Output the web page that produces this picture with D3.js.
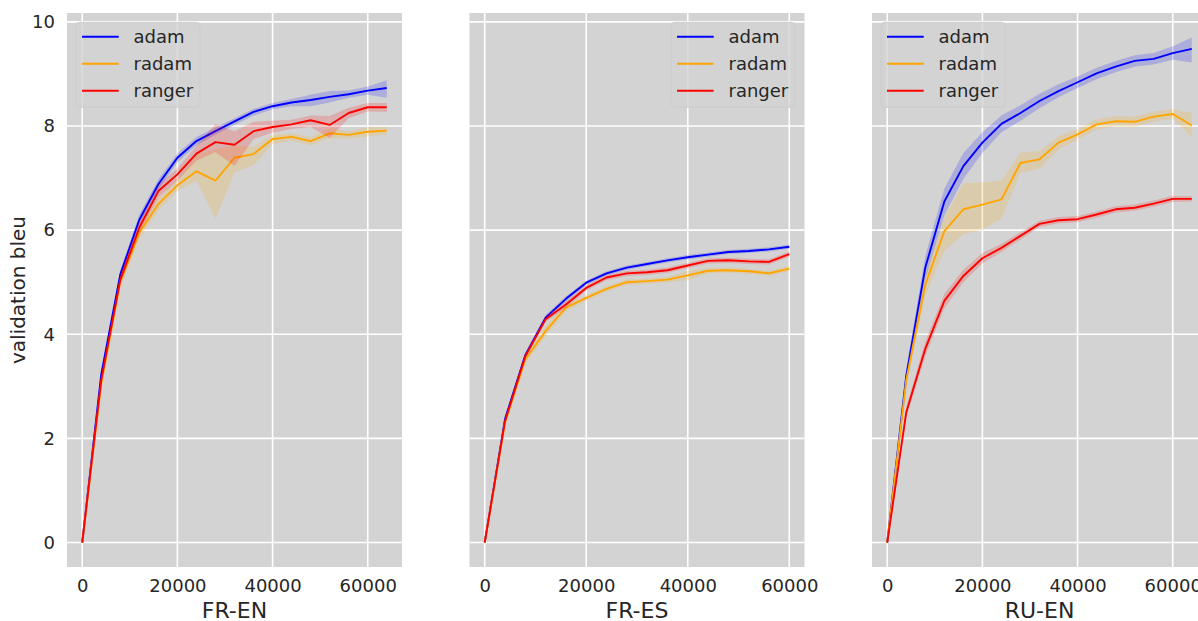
<!DOCTYPE html>
<html>
<head>
<meta charset="utf-8">
<script src="https://cdn.jsdelivr.net/npm/d3@7"></script>
<style>
  body { margin: 0; background: #fff; }
  svg text { font-family: "DejaVu Sans", sans-serif; fill: #262626; }
</style>
</head>
<body>
<div id="chart"></div>
<script>
// training steps (x values)
var steps64 = [0, 4000, 8000, 12000, 16000, 20000, 24000, 28000, 32000, 36000, 40000, 44000, 48000, 52000, 56000, 60000, 64000];
var steps60 = [0, 4000, 8000, 12000, 16000, 20000, 24000, 28000, 32000, 36000, 40000, 44000, 48000, 52000, 56000, 60000];

var languages = ["FR-EN", "FR-ES", "RU-EN"];
var optimizers = ["adam", "radam", "ranger"];
var xTicks = [0, 20000, 40000, 60000];
var yTicks = [0, 2, 4, 6, 8, 10];

// FR-EN
var frEnAdam    = [0, 3.23, 5.15, 6.20, 6.88, 7.39, 7.71, 7.90, 8.09, 8.27, 8.38, 8.45, 8.50, 8.56, 8.61, 8.68, 8.73];
var frEnAdamLo  = [0, 3.15, 5.07, 6.10, 6.78, 7.30, 7.63, 7.83, 8.02, 8.20, 8.32, 8.38, 8.38, 8.45, 8.54, 8.60, 8.54];
var frEnAdamHi  = [0, 3.30, 5.22, 6.30, 6.97, 7.47, 7.79, 7.97, 8.15, 8.33, 8.44, 8.52, 8.60, 8.67, 8.68, 8.76, 8.88];
var frEnRadam   = [0, 3.05, 5.00, 5.95, 6.50, 6.86, 7.13, 6.95, 7.39, 7.46, 7.75, 7.79, 7.71, 7.86, 7.83, 7.89, 7.91];
var frEnRadamLo = [0, 2.97, 4.90, 5.83, 6.38, 6.75, 6.95, 6.22, 7.10, 7.25, 7.65, 7.72, 7.63, 7.76, 7.76, 7.80, 7.84];
var frEnRadamHi = [0, 3.12, 5.10, 6.07, 6.62, 6.97, 7.45, 7.55, 7.62, 7.60, 7.83, 7.86, 7.79, 7.96, 7.90, 7.98, 7.98];
var frEnRanger   = [0, 3.12, 5.05, 6.05, 6.75, 7.07, 7.47, 7.69, 7.64, 7.90, 7.98, 8.03, 8.11, 8.02, 8.25, 8.36, 8.36];
var frEnRangerLo = [0, 3.04, 4.96, 5.94, 6.63, 6.95, 7.33, 7.50, 7.23, 7.75, 7.87, 7.94, 7.98, 7.77, 8.15, 8.28, 8.27];
var frEnRangerHi = [0, 3.20, 5.14, 6.16, 6.87, 7.19, 7.62, 8.04, 7.90, 8.08, 8.10, 8.12, 8.20, 8.19, 8.35, 8.44, 8.44];

// FR-ES
var frEsAdam    = [0, 2.37, 3.60, 4.32, 4.68, 4.99, 5.17, 5.28, 5.35, 5.42, 5.48, 5.53, 5.58, 5.60, 5.63, 5.68];
var frEsAdamLo  = [0, 2.32, 3.55, 4.27, 4.63, 4.95, 5.13, 5.24, 5.31, 5.38, 5.44, 5.49, 5.54, 5.56, 5.59, 5.64];
var frEsAdamHi  = [0, 2.42, 3.65, 4.37, 4.73, 5.03, 5.21, 5.32, 5.39, 5.46, 5.52, 5.57, 5.62, 5.64, 5.67, 5.72];
var frEsRadam   = [0, 2.30, 3.52, 4.06, 4.51, 4.70, 4.87, 5.00, 5.02, 5.05, 5.13, 5.22, 5.23, 5.21, 5.17, 5.26];
var frEsRadamLo = [0, 2.24, 3.45, 3.96, 4.45, 4.65, 4.82, 4.95, 4.97, 5.00, 5.04, 5.17, 5.18, 5.16, 5.12, 5.21];
var frEsRadamHi = [0, 2.36, 3.59, 4.16, 4.57, 4.75, 4.92, 5.05, 5.07, 5.10, 5.22, 5.27, 5.28, 5.26, 5.22, 5.31];
var frEsRanger   = [0, 2.33, 3.58, 4.29, 4.57, 4.89, 5.09, 5.17, 5.19, 5.23, 5.32, 5.41, 5.42, 5.40, 5.39, 5.54];
var frEsRangerLo = [0, 2.28, 3.53, 4.23, 4.51, 4.84, 5.04, 5.12, 5.14, 5.18, 5.27, 5.36, 5.37, 5.35, 5.34, 5.49];
var frEsRangerHi = [0, 2.38, 3.63, 4.35, 4.63, 4.94, 5.14, 5.22, 5.24, 5.28, 5.37, 5.46, 5.47, 5.45, 5.44, 5.59];

// RU-EN
var ruEnAdam    = [0, 3.20, 5.28, 6.55, 7.23, 7.68, 8.04, 8.25, 8.48, 8.67, 8.84, 9.01, 9.14, 9.25, 9.29, 9.40, 9.48];
var ruEnAdamLo  = [0, 3.05, 5.05, 6.28, 6.98, 7.48, 7.88, 8.10, 8.34, 8.55, 8.73, 8.90, 9.03, 9.14, 9.18, 9.27, 9.22];
var ruEnAdamHi  = [0, 3.35, 5.50, 6.80, 7.48, 7.88, 8.20, 8.40, 8.62, 8.80, 8.95, 9.12, 9.25, 9.36, 9.40, 9.53, 9.70];
var ruEnRadam   = [0, 3.12, 4.95, 5.98, 6.40, 6.49, 6.59, 7.29, 7.36, 7.68, 7.84, 8.03, 8.09, 8.08, 8.18, 8.23, 8.01];
var ruEnRadamLo = [0, 3.00, 4.75, 5.60, 5.92, 6.01, 6.22, 7.10, 7.18, 7.55, 7.74, 7.93, 7.99, 7.98, 8.08, 8.14, 7.79];
var ruEnRadamHi = [0, 3.25, 5.15, 6.25, 6.90, 6.92, 6.95, 7.49, 7.52, 7.80, 7.94, 8.13, 8.19, 8.18, 8.28, 8.32, 8.25];
var ruEnRanger   = [0, 2.50, 3.72, 4.64, 5.12, 5.46, 5.66, 5.89, 6.12, 6.19, 6.21, 6.30, 6.40, 6.43, 6.51, 6.60, 6.60];
var ruEnRangerLo = [0, 2.40, 3.58, 4.50, 5.00, 5.36, 5.58, 5.82, 6.06, 6.13, 6.15, 6.24, 6.34, 6.37, 6.45, 6.54, 6.55];
var ruEnRangerHi = [0, 2.60, 3.86, 4.78, 5.24, 5.56, 5.74, 5.96, 6.18, 6.25, 6.27, 6.36, 6.46, 6.49, 6.57, 6.66, 6.65];

function init() {
  var w = 1198;
  var h = 621;
  var top = 13;
  var bottom = 567;
  var pw = 335;
  var lefts = [67, 469.5, 872];
  var colors = { adam: "blue", radam: "orange", ranger: "red" };
  var yLimits = [-0.47, 10.17];

  var panels = [
    { name: languages[0], steps: steps64, series: [
      { key: "adam", mean: frEnAdam, lo: frEnAdamLo, hi: frEnAdamHi },
      { key: "radam", mean: frEnRadam, lo: frEnRadamLo, hi: frEnRadamHi },
      { key: "ranger", mean: frEnRanger, lo: frEnRangerLo, hi: frEnRangerHi }],
      legendLeft: true },
    { name: languages[1], steps: steps60, series: [
      { key: "adam", mean: frEsAdam, lo: frEsAdamLo, hi: frEsAdamHi },
      { key: "radam", mean: frEsRadam, lo: frEsRadamLo, hi: frEsRadamHi },
      { key: "ranger", mean: frEsRanger, lo: frEsRangerLo, hi: frEsRangerHi }],
      legendLeft: false },
    { name: languages[2], steps: steps64, series: [
      { key: "adam", mean: ruEnAdam, lo: ruEnAdamLo, hi: ruEnAdamHi },
      { key: "radam", mean: ruEnRadam, lo: ruEnRadamLo, hi: ruEnRadamHi },
      { key: "ranger", mean: ruEnRanger, lo: ruEnRangerLo, hi: ruEnRangerHi }],
      legendLeft: true }
  ];

  var svg = d3.select("#chart")
    .append("svg")
    .attr("width", w)
    .attr("height", h);

  var yScale = d3.scaleLinear()
    .domain(yLimits)
    .range([bottom, top]);

  panels.forEach(function(p, i) {
    var left = lefts[i];
    var maxStep = d3.max(p.steps);
    var xScale = d3.scaleLinear()
      .domain([-maxStep * 0.05, maxStep * 1.05])
      .range([left, left + pw]);

    var g = svg.append("g");

    // background
    g.append("rect")
      .attr("x", left)
      .attr("y", top)
      .attr("width", pw)
      .attr("height", bottom - top)
      .attr("fill", "#d3d3d3");

    // grid
    g.selectAll(".hgrid")
      .data(yTicks)
      .enter()
      .append("line")
      .attr("x1", left)
      .attr("x2", left + pw)
      .attr("y1", d => yScale(d))
      .attr("y2", d => yScale(d))
      .attr("stroke", "#fff")
      .attr("stroke-width", 1.6);

    g.selectAll(".vgrid")
      .data(xTicks)
      .enter()
      .append("line")
      .attr("x1", d => xScale(d))
      .attr("x2", d => xScale(d))
      .attr("y1", top)
      .attr("y2", bottom)
      .attr("stroke", "#fff")
      .attr("stroke-width", 1.6);

    svg.append("clipPath")
      .attr("id", "clip" + i)
      .append("rect")
      .attr("x", left)
      .attr("y", top)
      .attr("width", pw)
      .attr("height", bottom - top);

    var plot = g.append("g").attr("clip-path", "url(#clip" + i + ")");

    var area = d3.area()
      .x((d, j) => xScale(p.steps[j]))
      .y0(d => yScale(d[0]))
      .y1(d => yScale(d[1]));

    var line = d3.line()
      .x((d, j) => xScale(p.steps[j]))
      .y(d => yScale(d));

    p.series.forEach(function(s) {
      plot.append("path")
        .datum(s.lo.map((v, j) => [v, s.hi[j]]))
        .attr("fill", colors[s.key])
        .attr("fill-opacity", 0.18)
        .attr("stroke", "none")
        .attr("d", area);

      plot.append("path")
        .datum(s.mean)
        .attr("fill", "none")
        .attr("stroke", colors[s.key])
        .attr("stroke-width", 1.9)
        .attr("stroke-linejoin", "round")
        .attr("d", line);
    });

    // x axis
    var xAxis = d3.axisBottom(xScale)
      .tickValues(xTicks)
      .tickSize(0)
      .tickPadding(12.7)
      .tickFormat(d3.format("d"));

    var xg = g.append("g")
      .attr("transform", `translate(0,${bottom})`)
      .call(xAxis);
    xg.select(".domain").remove();
    xg.selectAll("text")
      .attr("font-size", "18px")
      .attr("fill", "#262626")
      .style("font-family", "'DejaVu Sans', sans-serif");

    g.append("text")
      .attr("x", left + pw / 2)
      .attr("y", 617.5)
      .attr("text-anchor", "middle")
      .attr("font-size", "22px")
      .text(p.name);

    // y axis only on first panel
    if (i === 0) {
      var yAxis = d3.axisLeft(yScale)
        .tickValues(yTicks)
        .tickSize(0)
        .tickPadding(12);
      var yg = g.append("g")
        .attr("transform", `translate(${left},0)`)
        .call(yAxis);
      yg.select(".domain").remove();
      yg.selectAll("text")
        .attr("font-size", "18px")
        .attr("fill", "#262626")
        .style("font-family", "'DejaVu Sans', sans-serif");

      g.append("text")
        .attr("transform", `translate(25,${(top + bottom) / 2}) rotate(-90)`)
        .attr("text-anchor", "middle")
        .attr("font-size", "20px")
        .text("validation bleu");
    }

    // legend
    var lw = 124;
    var lx = p.legendLeft ? left + 9 : left + pw - 9.5 - lw;
    var legend = g.append("g");
    legend.append("rect")
      .attr("x", lx)
      .attr("y", 22.3)
      .attr("width", lw)
      .attr("height", 85)
      .attr("rx", 4)
      .attr("fill", "#d3d3d3")
      .attr("fill-opacity", 0.8)
      .attr("stroke", "#cccccc")
      .attr("stroke-width", 1);

    optimizers.forEach(function(o, k) {
      var ry = 36.7 + k * 27;
      legend.append("line")
        .attr("x1", lx + 6)
        .attr("x2", lx + 42.7)
        .attr("y1", ry)
        .attr("y2", ry)
        .attr("stroke", colors[o])
        .attr("stroke-width", 2);
      legend.append("text")
        .attr("x", lx + 57.5)
        .attr("y", ry)
        .attr("dy", "0.36em")
        .attr("font-size", "18px")
        .text(o);
    });
  });
}

window.onload = init;
</script>
</body>
</html>
